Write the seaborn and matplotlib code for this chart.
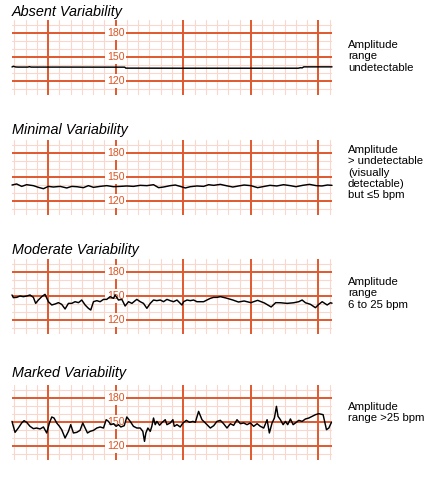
import pandas as pd
import matplotlib.pyplot as plt
import seaborn as sns

# panel texts
titles = ['Absent Variability', 'Minimal Variability',
          'Moderate Variability', 'Marked Variability']
notes = ['Amplitude\nrange\nundetectable',
         'Amplitude\n> undetectable\n(visually\ndetectable)\nbut \u22645 bpm',
         'Amplitude\nrange\n6 to 25 bpm',
         'Amplitude\nrange >25 bpm']
bpm_labels = [180, 150, 120]

# traces: time in seconds, fetal heart rate in bpm
absent_t = [0, 1.5, 3, 5, 14, 15.5, 17, 40, 100, 101, 150, 200, 254, 256, 257.5, 259, 284]
absent_bpm = [137.6, 138.4, 137.6, 137.4, 137.4, 137.9, 137.4, 137.4, 137.3, 136.1,
              136.0, 136.0, 136.0, 136.6, 136.4, 137.7, 137.7]

minimal_t = [0, 4.1, 8.6, 13.0, 19.0, 23.4, 27.9, 32.3, 36.7, 42.7, 48.6, 53.0, 57.5,
             63.4, 67.8, 72.3, 78.2, 84.1, 90.1, 96.0, 101.9, 107.8, 113.8, 119.7,
             125.6, 130.1, 134.5, 140.4, 144.9, 149.3, 153.8, 158.2, 164.1, 170.1,
             174.5, 179.0, 184.9, 190, 196, 201, 206, 212, 218, 224, 229, 235, 241,
             247, 252, 258, 264, 270, 275, 280, 284]
minimal_bpm = [140.0, 141.3, 138.3, 140.4, 139.2, 137.1, 135.4, 138.3, 137.5, 138.3,
               136.3, 138.3, 137.9, 136.7, 139.2, 137.1, 138.3, 139.2, 137.9, 138.3,
               138.8, 138.3, 139.6, 139.2, 140.4, 136.7, 137.5, 139.2, 140.0, 138.3,
               136.3, 137.9, 138.8, 138.3, 140.4, 139.6, 140.8, 139.2, 137.5, 138.8,
               140.0, 139.2, 136.7, 138.3, 139.6, 138.8, 140.4, 139.2, 137.9, 139.6,
               140.8, 139.2, 138.8, 140.0, 139.6]

moderate_t = [0, 1.2, 4.1, 7.1, 10.1, 13.0, 16.0, 19.0, 21.0, 23.4, 26.4, 29.3, 32.3,
              35.3, 38.2, 41.2, 44.1, 47.1, 50.1, 53.0, 56.0, 59.0, 61.9, 64.9, 67.8,
              69.9, 72.3, 75.3, 78.2, 81.2, 84.1, 87.1, 90.1, 91.5, 94.5, 97.5, 100.4,
              103.4, 106.4, 109.3, 110.8, 113.8, 116.7, 119.7, 122.7, 125.6, 128.6,
              131.6, 134.5, 137.5, 140.4, 143.4, 146.4, 150.8, 152.3, 155.3, 158.2,
              161.2, 164.1, 167.1, 170.1, 173.0, 176.0, 178.9, 181.9, 184.9, 190, 196,
              201, 206, 212, 218, 224, 230, 234, 238.2, 244.2, 250.1, 254.5, 257.5,
              260.4, 264.9, 269.3, 272.3, 275.3, 279.7, 282.7, 284]
moderate_bpm = [151.3, 148.0, 148.3, 150.0, 149.2, 150.0, 151.3, 148.3, 140.8, 145.0,
                149.2, 152.1, 142.9, 138.8, 140.0, 141.7, 139.6, 133.8, 140.8, 140.8,
                142.9, 141.7, 145.0, 138.8, 134.6, 132.5, 142.9, 144.2, 142.9, 145.8,
                145.8, 149.2, 147.1, 151.3, 145.0, 145.8, 137.5, 142.9, 140.8, 144.2,
                145.8, 142.9, 140.8, 134.6, 140.8, 145.0, 144.2, 145.0, 142.9, 145.8,
                144.2, 142.9, 145.0, 138.8, 142.9, 145.0, 144.2, 145.0, 142.9, 142.9,
                142.9, 145.0, 147.1, 148.3, 148.3, 149.2, 147.5, 145.0, 142.5, 143.8,
                141.7, 144.6, 141.3, 136.3, 141.7, 141.6, 140.8, 141.6, 142.9, 145.0,
                141.6, 139.6, 135.4, 139.6, 142.9, 138.8, 141.6, 141.0]

marked_t = [0, 1.2, 2.7, 5.6, 8.6, 10.7, 13.0, 16.0, 19.0, 21.9, 24.9, 27.9, 30.8,
            33.2, 35.3, 37.3, 39.7, 42.1, 44.1, 47.1, 50.1, 52.1, 54.5, 57.5, 60.4,
            62.8, 64.9, 67.0, 69.3, 72.3, 75.3, 78.2, 81.2, 83.6, 85.6, 87.7, 90.1,
            92.4, 94.5, 96.6, 99.6, 101.9, 104.9, 107.8, 110.8, 113.8, 116.1, 117.6,
            118.8, 120.6, 122.7, 124.1, 125.6, 127.1, 128.6, 131.0, 133.0, 136.0,
            137.5, 140.4, 142.8, 144.0, 146.4, 149.3, 151.7, 154.7, 157.6, 160.6,
            162.7, 165.6, 168.6, 171.6, 176.0, 179.0, 181.9, 184.9, 187.8, 190.8,
            193.8, 196.7, 199.7, 202.7, 205.6, 208.6, 211.5, 214.5, 217.5, 220.4,
            223.4, 226.4, 228.4, 230.8, 232.9, 234.7, 236.1, 238.2, 240.6, 242.7,
            244.7, 247.1, 249.5, 251.5, 254.5, 257.5, 260.4, 263.4, 266.4, 269.3,
            272.3, 276.1, 279.1, 281.2, 283.5]
marked_bpm = [150.8, 144.6, 137.1, 142.5, 148.8, 151.7, 149.6, 144.6, 141.7, 142.5,
              141.3, 143.8, 136.3, 148.8, 156.3, 155.0, 148.8, 144.6, 140.4, 130.0,
              138.3, 146.7, 136.3, 137.1, 139.6, 148.8, 142.5, 136.3, 138.3, 139.6,
              142.5, 143.8, 142.5, 152.9, 150.8, 146.7, 147.9, 144.6, 146.7, 143.8,
              145.4, 156.3, 150.8, 144.6, 142.5, 142.5, 138.3, 125.8, 136.3, 142.5,
              138.3, 144.6, 155.0, 146.7, 150.8, 146.0, 149.2, 152.9, 146.7, 148.8,
              152.9, 144.6, 146.7, 143.8, 148.8, 152.1, 149.6, 150.8, 149.6, 163.3,
              152.9, 148.8, 142.5, 145.4, 150.8, 152.1, 147.9, 142.5, 147.9, 145.8,
              152.9, 147.9, 148.8, 146.7, 148.8, 144.6, 147.9, 144.6, 142.5, 152.9,
              136.3, 148.8, 155.0, 169.6, 157.1, 152.9, 146.7, 150.8, 146.7, 153.8,
              146.7, 148.8, 152.1, 150.8, 153.8, 155.0, 157.1, 159.2, 160.4, 159.2,
              140.4, 142.5, 149.6]

traces = [(absent_t, absent_bpm), (minimal_t, minimal_bpm),
          (moderate_t, moderate_bpm), (marked_t, marked_bpm)]

W, H = 432, 490
sns.set_style('white')
plt.rcParams['font.family'] = ['Liberation Sans', 'DejaVu Sans']

fig = plt.figure(figsize=(W / 100, H / 100), dpi=100)

panel_top = [20, 140, 259, 385]
title_base = [16, 134, 254, 377]
note_top = [40, 145, 277, 402]

major_c = '#e0592e'
minor_c = '#f9d8cb'
label_c = '#dc5524'

for i, (t, bpm) in enumerate(traces):
    ax = fig.add_axes([12 / W, 1 - (panel_top[i] + 75) / H, 320 / W, 75 / H])
    ax.set_xlim(0, 284)
    ax.set_ylim(102.5, 196.3)
    ax.axis('off')

    # paper grid: 10 s / 10 bpm minor, 1 min / 30 bpm major
    for x in range(2, 285, 10):
        if (x - 32) % 60:
            ax.axvline(x, color=minor_c, lw=0.8, zorder=1)
    for y in range(110, 200, 10):
        if y not in bpm_labels:
            ax.axhline(y, color=minor_c, lw=0.8, zorder=1)
    for x in range(32, 285, 60):
        ax.axvline(x, color=major_c, lw=1.4, zorder=2)
    for y in bpm_labels:
        ax.axhline(y, color=major_c, lw=1.4, zorder=2)
        ax.text(92, y, str(y), color=label_c, fontsize=7.6, ha='center', va='center',
                zorder=3, bbox=dict(facecolor='white', edgecolor='none', pad=1.2))

    df = pd.DataFrame({'t': t, 'bpm': bpm})
    sns.lineplot(data=df, x='t', y='bpm', ax=ax, color='black', linewidth=1.05,
                 zorder=4, clip_on=False)

    fig.text(12 / W, 1 - title_base[i] / H, titles[i], fontsize=10.4, style='italic',
             va='baseline', ha='left', color='black')
    fig.text(348 / W, 1 - note_top[i] / H, notes[i], fontsize=8.2, va='top',
             ha='left', linespacing=1.17, color='black')

fig.savefig('out.png', dpi=100)
